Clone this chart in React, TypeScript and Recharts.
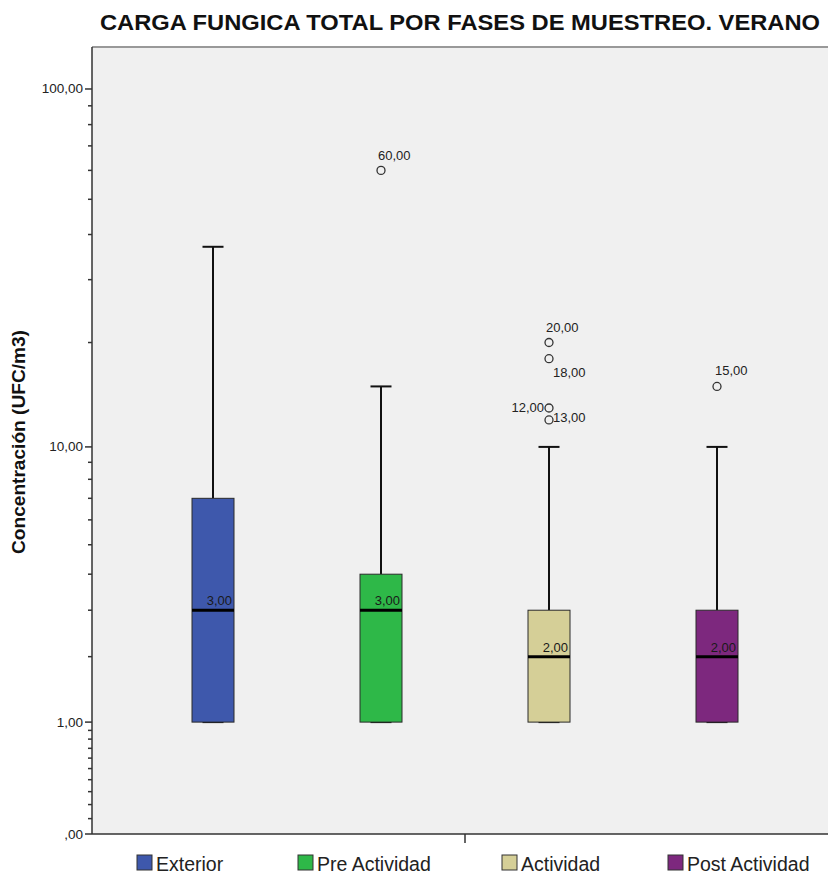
import React from 'react';
import { ComposedChart, Bar, XAxis, YAxis, CartesianGrid, ReferenceLine } from 'recharts';

// Box-plot statistics per sampling phase (UFC/m3)
const categories = ['Exterior', 'Pre Actividad', 'Actividad', 'Post Actividad'];
const lowerWhisker = [1, 1, 1, 1];
const q1 = [1, 1, 1, 1];
const medians = [3, 3, 2, 2];
const q3 = [7, 4, 3, 3];
const upperWhisker = [37, 15, 10, 10];
const outliers: number[][] = [[], [60], [20, 18, 13, 12], [15]];

// Axis ticks (original units)
const majorTicks = [0, 1, 10, 100];
const minorTicks = [
  0.1, 0.2, 0.3, 0.4, 0.5, 0.6, 0.7, 0.8, 0.9,
  2, 3, 4, 5, 6, 7, 8, 9,
  20, 30, 40, 50, 60, 70, 80, 90,
];
const axisTopValue = 130;

const colors = ['#3E58AC', '#2EB848', '#D5CF97', '#7D287E'];
const legendX = [137, 298, 502, 668];

// Offsets of outlier labels relative to their circle, keyed "category-value"
const outlierLabelPos: Record<string, { dx: number; dy: number; anchor: 'start' | 'end' }> = {
  '1-60': { dx: -3, dy: -10, anchor: 'start' },
  '2-20': { dx: -3, dy: -11, anchor: 'start' },
  '2-18': { dx: 4, dy: 18, anchor: 'start' },
  '2-13': { dx: 4, dy: 14, anchor: 'start' },
  '2-12': { dx: -5, dy: -8, anchor: 'end' },
  '3-15': { dx: -2, dy: -11, anchor: 'start' },
};

const FONT = '"Liberation Sans", Arial, Helvetica, sans-serif';

// SPSS-style safe log axis: log10(v + 1)
const toAxis = (v: number) => Math.log10(v + 1);
const fromAxis = (t: number) => Math.round((Math.pow(10, t) - 1) * 10) / 10;
const fmt = (v: number) => (v === 0 ? ',00' : v.toFixed(2).replace('.', ','));

const data = categories.map((name, i) => ({
  name,
  idx: i,
  box: [toAxis(q1[i]), toAxis(q3[i])],
  q1: q1[i],
  q3: q3[i],
  median: medians[i],
  lo: lowerWhisker[i],
  hi: upperWhisker[i],
  outliers: outliers[i],
}));

const tickValues = [...majorTicks, ...minorTicks].sort((a, b) => a - b).map(toAxis);

// Category positions on a continuous scale, with the same outer padding as the band axis
const bandPad = 0.72;
const midDomain = [-bandPad, categories.length - 1 + bandPad];
const midTick = (categories.length - 1) / 2;

const BoxShape = (props: any) => {
  const { x, y, width, height, payload } = props;
  const top = Math.min(y, y + height);
  const h = Math.abs(height);
  const bottom = top + h;
  const span = toAxis(payload.q3) - toAxis(payload.q1);
  const yOf = (v: number) => bottom - ((toAxis(v) - toAxis(payload.q1)) * h) / span;
  const cx = x + width / 2;
  const capHalf = width / 4;
  const yHi = yOf(payload.hi);
  const yLo = yOf(payload.lo);
  const yMed = yOf(payload.median);
  const ink = '#111';
  return (
    <g>
      {/* whiskers */}
      <line x1={cx} x2={cx} y1={yHi} y2={top} stroke={ink} strokeWidth={2} />
      <line x1={cx - capHalf} x2={cx + capHalf} y1={yHi} y2={yHi} stroke={ink} strokeWidth={2} />
      <line x1={cx} x2={cx} y1={bottom} y2={yLo} stroke={ink} strokeWidth={2} />
      <line x1={cx - capHalf} x2={cx + capHalf} y1={yLo} y2={yLo} stroke={ink} strokeWidth={2} />
      {/* box */}
      <rect x={x} y={top} width={width} height={h} fill={colors[payload.idx]} stroke="#2a2a2a" strokeWidth={1} />
      {/* median */}
      <line x1={x} x2={x + width} y1={yMed} y2={yMed} stroke="#000" strokeWidth={3} />
      <text x={x + width - 2} y={yMed - 5} textAnchor="end" fontSize={13} fontFamily={FONT} fill="#1a1a1a">
        {fmt(payload.median)}
      </text>
      {/* outliers */}
      {payload.outliers.map((v: number) => {
        const cy = yOf(v);
        const pos = outlierLabelPos[`${payload.idx}-${v}`] || { dx: -3, dy: -10, anchor: 'start' };
        return (
          <g key={v}>
            <circle cx={cx} cy={cy} r={4} fill="none" stroke="#333" strokeWidth={1.3} />
            <text x={cx + pos.dx} y={cy + pos.dy} textAnchor={pos.anchor} fontSize={13} fontFamily={FONT} fill="#222">
              {fmt(v)}
            </text>
          </g>
        );
      })}
    </g>
  );
};

const YTick = (props: any) => {
  const { x, y, payload } = props;
  const v = fromAxis(payload.value);
  const major = majorTicks.includes(v);
  return (
    <g>
      <line x1={x - (major ? 7 : 4)} x2={x} y1={y} y2={y} stroke="#333" strokeWidth={1.5} />
      {major && (
        <text x={x - 9} y={y + 4.5} textAnchor="end" fontSize={13.5} fontFamily={FONT} fill="#222">
          {fmt(v)}
        </text>
      )}
    </g>
  );
};

export default function App() {
  return (
    <div style={{ position: 'fixed', left: 0, top: 0, width: 828, height: 874, overflow: 'hidden', background: '#fff' }}>
      <ComposedChart
        width={828}
        height={874}
        data={data}
        margin={{ top: 47, right: -10, bottom: 0, left: 0 }}
      >
        <CartesianGrid fill="#F0F0F0" stroke="none" horizontal={false} vertical={false} />
        <XAxis dataKey="name" type="category" padding={{ left: 37, right: 37 }} height={0} hide />
        <XAxis
          xAxisId="mid"
          dataKey="idx"
          type="number"
          domain={midDomain}
          ticks={[midTick]}
          allowDataOverflow
          tickFormatter={() => ''}
          tickSize={9}
          tickLine={{ stroke: '#333', strokeWidth: 1.5 }}
          axisLine={{ stroke: '#333', strokeWidth: 1.5 }}
          height={40}
        />
        <YAxis
          type="number"
          domain={[0, toAxis(axisTopValue)]}
          allowDataOverflow
          ticks={tickValues}
          interval={0}
          tick={<YTick />}
          tickLine={false}
          tickSize={0}
          tickMargin={0}
          axisLine={{ stroke: '#333', strokeWidth: 1.5 }}
          width={92}
        />
        <ReferenceLine y={toAxis(axisTopValue)} stroke="#999" strokeWidth={2} />
        <Bar dataKey="box" barSize={42} shape={<BoxShape />} isAnimationActive={false} />
      </ComposedChart>
      <svg width={828} height={874} style={{ position: 'absolute', left: 0, top: 0, pointerEvents: 'none' }}>
        <text x={460} y={30} textAnchor="middle" fontSize={22} fontWeight="bold" fontFamily={FONT} fill="#111" textLength={720} lengthAdjust="spacingAndGlyphs">
          CARGA FUNGICA TOTAL POR FASES DE MUESTREO. VERANO
        </text>
        <text
          transform="translate(25,442) rotate(-90)"
          textAnchor="middle"
          fontSize={18.5}
          fontWeight="bold"
          fontFamily={FONT}
          fill="#111"
          textLength={224}
          lengthAdjust="spacingAndGlyphs"
        >
          Concentración (UFC/m3)
        </text>
        {categories.map((c, i) => (
          <g key={c}>
            <rect x={legendX[i]} y={855} width={15} height={15} fill={colors[i]} stroke="#333" strokeWidth={1} />
            <text x={legendX[i] + 19} y={871} fontSize={19.5} fontFamily={FONT} fill="#222">
              {c}
            </text>
          </g>
        ))}
      </svg>
    </div>
  );
}
